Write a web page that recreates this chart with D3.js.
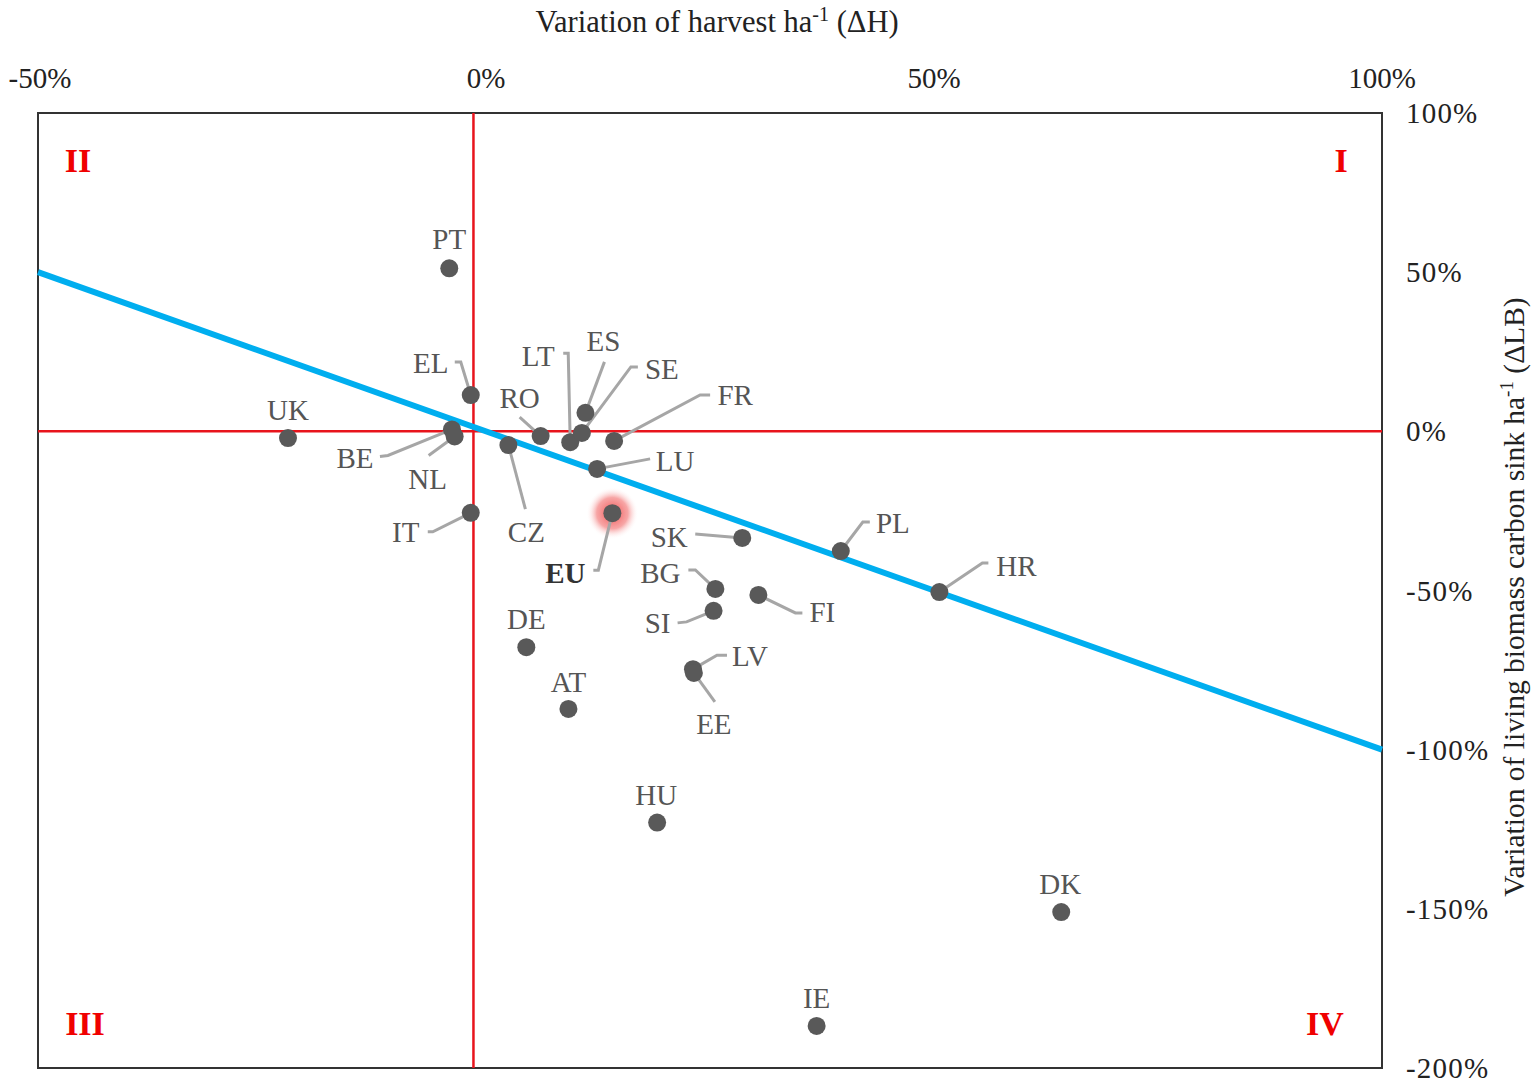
<!DOCTYPE html>
<html>
<head>
<meta charset="utf-8">
<style>
  body { margin: 0; background: #fff; }
  svg { font-family: "Liberation Serif", "Times New Roman", serif; }
</style>
</head>
<body>
<svg width="1534" height="1083"></svg>
<script src="https://cdn.jsdelivr.net/npm/d3@7/dist/d3.min.js"></script>
<script>
// country codes with harvest variation (dH, %) and living biomass sink variation (dLB, %)
var countries = ["PT","EL","UK","BE","NL","RO","LT","SE","ES","FR","CZ","LU","IT","EU","SK","PL","HR","BG","FI","SI","LV","EE","DE","AT","HU","DK","IE"];
var harvestVar = [-4.1,-1.7,-22.1,-3.8,-3.5,6.1,9.4,10.7,11.1,14.3,2.5,12.4,-1.7,14.1,28.6,39.6,50.6,25.6,30.4,25.4,23.1,23.2,4.5,9.2,19.1,64.2,36.9];
var sinkVar = [51.2,11.4,-2.1,0.6,-1.6,-1.5,-3.4,-0.5,5.8,-3.0,-4.3,-11.8,-25.6,-25.7,-33.5,-37.6,-50.5,-49.5,-51.4,-56.4,-74.7,-75.9,-67.8,-87.2,-122.9,-151.0,-186.8];

var xTicks = [-50, 0, 50, 100];
var yTicks = [100, 50, 0, -50, -100, -150, -200];
var quadrants = [{t:"I", q:1}, {t:"II", q:2}, {t:"III", q:3}, {t:"IV", q:4}];

// trend line dLB = -dH
var trendX = [-50, 100];
var trendY = [50, -100];
var crossX = -1.4; // the red vertical line sits a little left of 0 in the original

// label placement (pixels, relative to the point) and leader bends
var labelPos = {
  PT:{dx:0,dy:-29}, UK:{dx:0,dy:-28}, DE:{dx:0,dy:-28}, AT:{dx:0,dy:-27},
  HU:{dx:-1,dy:-28}, DK:{dx:-1,dy:-28}, IE:{dx:0,dy:-28},
  EL:{dx:-40,dy:-32, lead:[[-10,-33],[-16,-33]]},
  BE:{dx:-97,dy:28, lead:[[-64,26],[-72,27]]},
  NL:{dx:-27,dy:42, lead:[[-26,19]]},
  RO:{dx:-21,dy:-38, lead:[[-21,-19]]},
  LT:{dx:-32,dy:-86, lead:[[-2,-89],[-7,-89]]},
  ES:{dx:18,dy:-72, lead:[[19,-51]]},
  SE:{dx:80,dy:-64, lead:[[49,-66],[56,-66]]},
  FR:{dx:121,dy:-46, lead:[[86,-46],[96,-46]]},
  LU:{dx:78,dy:-8, lead:[[53,-10]]},
  CZ:{dx:18,dy:87, lead:[[17,64]]},
  IT:{dx:-65,dy:19, lead:[[-38,19],[-43,19]]},
  EU:{dx:-47,dy:60, lead:[[-14,57],[-19,57]]},
  SK:{dx:-73,dy:-1, lead:[[-47,-4]]},
  PL:{dx:52,dy:-28, lead:[[22,-29],[29,-29]]},
  HR:{dx:77,dy:-26, lead:[[43,-29],[49,-29]]},
  BG:{dx:-55,dy:-16, lead:[[-20,-19],[-27,-19]]},
  FI:{dx:64,dy:17, lead:[[37,18],[44,18]]},
  SI:{dx:-56,dy:12, lead:[[-27,11],[-36,12]]},
  LV:{dx:57,dy:-13, lead:[[24,-14],[34,-14]]},
  EE:{dx:20,dy:51, lead:[[21,29]]}
};

var svg = d3.select("svg");
var plotLeft = 38, plotRight = 1382, plotTop = 113, plotBottom = 1068;

var x = d3.scaleLinear().domain([-50, 100]).range([plotLeft, plotRight]);
var y = d3.scaleLinear().domain([100, -200]).range([plotTop, plotBottom]);

var data = countries.map(function(c, i) {
  return {name: c, h: harvestVar[i], lb: sinkVar[i]};
});

var defs = svg.append("defs");
var glow = defs.append("radialGradient").attr("id", "glow");
glow.append("stop").attr("offset", "0%").attr("stop-color", "#ee3b3b").attr("stop-opacity", 0.9);
glow.append("stop").attr("offset", "60%").attr("stop-color", "#f26a6a").attr("stop-opacity", 0.6);
glow.append("stop").attr("offset", "100%").attr("stop-color", "#ffffff").attr("stop-opacity", 0);

// frame
svg.append("rect")
  .attr("x", plotLeft).attr("y", plotTop)
  .attr("width", plotRight - plotLeft).attr("height", plotBottom - plotTop)
  .attr("fill", "none").attr("stroke", "#333").attr("stroke-width", 2);

// quadrant cross
svg.append("line")
  .attr("x1", x(crossX)).attr("x2", x(crossX))
  .attr("y1", y(100)).attr("y2", y(-200))
  .attr("stroke", "#e8141c").attr("stroke-width", 2.5);
svg.append("line")
  .attr("x1", x(-50)).attr("x2", x(100))
  .attr("y1", y(0)).attr("y2", y(0))
  .attr("stroke", "#e8141c").attr("stroke-width", 2.5);

// trend line
svg.append("line")
  .attr("x1", x(trendX[0])).attr("y1", y(trendY[0]))
  .attr("x2", x(trendX[1])).attr("y2", y(trendY[1]))
  .attr("stroke", "#00aeef").attr("stroke-width", 6);

// top axis
var xAxis = svg.append("g").attr("transform", "translate(0,78)");
xAxis.selectAll("text").data(xTicks).enter().append("text")
  .attr("x", function(d){ return d === -50 ? x(d) + 2 : x(d); })
  .attr("y", 0)
  .attr("dy", "0.35em")
  .attr("text-anchor", "middle")
  .attr("font-size", 29)
  .attr("fill", "#222")
  .text(function(d){ return d + "%"; });

// right axis
var yAxis = svg.append("g");
yAxis.selectAll("text").data(yTicks).enter().append("text")
  .attr("x", 1406)
  .attr("y", function(d){ return y(d); })
  .attr("dy", "0.35em")
  .attr("font-size", 29)
  .attr("letter-spacing", 1.2)
  .attr("fill", "#222")
  .text(function(d){ return d + "%"; });

// axis titles
var xt = svg.append("text")
  .attr("x", 717).attr("y", 32)
  .attr("text-anchor", "middle")
  .attr("font-size", 30.5)
  .attr("fill", "#222");
xt.append("tspan").text("Variation of harvest ha");
xt.append("tspan").attr("dy", -11).attr("font-size", 20).text("-1");
xt.append("tspan").attr("dy", 11).text(" (\u0394H)");

var yt = svg.append("text")
  .attr("transform", "translate(1524,597) rotate(-90)")
  .attr("text-anchor", "middle")
  .attr("font-size", 29.5)
  .attr("fill", "#222");
yt.append("tspan").text("Variation of living biomass carbon sink ha");
yt.append("tspan").attr("dy", -11).attr("font-size", 19).text("-1");
yt.append("tspan").attr("dy", 11).text(" (\u0394LB)");

// quadrant labels
var qpos = {1:[1341,160], 2:[78,160], 3:[85,1023], 4:[1325,1023]};
svg.selectAll(".quad").data(quadrants).enter().append("text")
  .attr("class", "quad")
  .attr("x", function(d){ return qpos[d.q][0]; })
  .attr("y", function(d){ return qpos[d.q][1]; })
  .attr("dy", "0.35em")
  .attr("text-anchor", "middle")
  .attr("font-size", 34)
  .attr("font-weight", "bold")
  .attr("fill", "#f00000")
  .text(function(d){ return d.t; });

// EU highlight
var eu = data.filter(function(d){ return d.name === "EU"; })[0];
svg.append("circle")
  .attr("cx", x(eu.h)).attr("cy", y(eu.lb)).attr("r", 26)
  .attr("fill", "url(#glow)");

// leader lines
svg.selectAll(".leader").data(data.filter(function(d){ return labelPos[d.name].lead; }))
  .enter().append("polyline")
  .attr("class", "leader")
  .attr("points", function(d){
    var px = x(d.h), py = y(d.lb);
    var pts = [[px, py]].concat(labelPos[d.name].lead.map(function(p){ return [px + p[0], py + p[1]]; }));
    return pts.map(function(p){ return p.join(","); }).join(" ");
  })
  .attr("fill", "none")
  .attr("stroke", "#a6a6a6")
  .attr("stroke-width", 3);

// points
svg.selectAll(".pt").data(data).enter().append("circle")
  .attr("class", "pt")
  .attr("cx", function(d){ return x(d.h); })
  .attr("cy", function(d){ return y(d.lb); })
  .attr("r", 9)
  .attr("fill", "#595959");

// labels
svg.selectAll(".lbl").data(data).enter().append("text")
  .attr("class", "lbl")
  .attr("x", function(d){ return x(d.h) + labelPos[d.name].dx; })
  .attr("y", function(d){ return y(d.lb) + labelPos[d.name].dy; })
  .attr("dy", "0.35em")
  .attr("text-anchor", "middle")
  .attr("font-size", 29)
  .attr("font-weight", function(d){ return d.name === "EU" ? "bold" : "normal"; })
  .attr("fill", function(d){ return d.name === "EU" ? "#333" : "#555"; })
  .text(function(d){ return d.name; });
</script>
</body>
</html>
